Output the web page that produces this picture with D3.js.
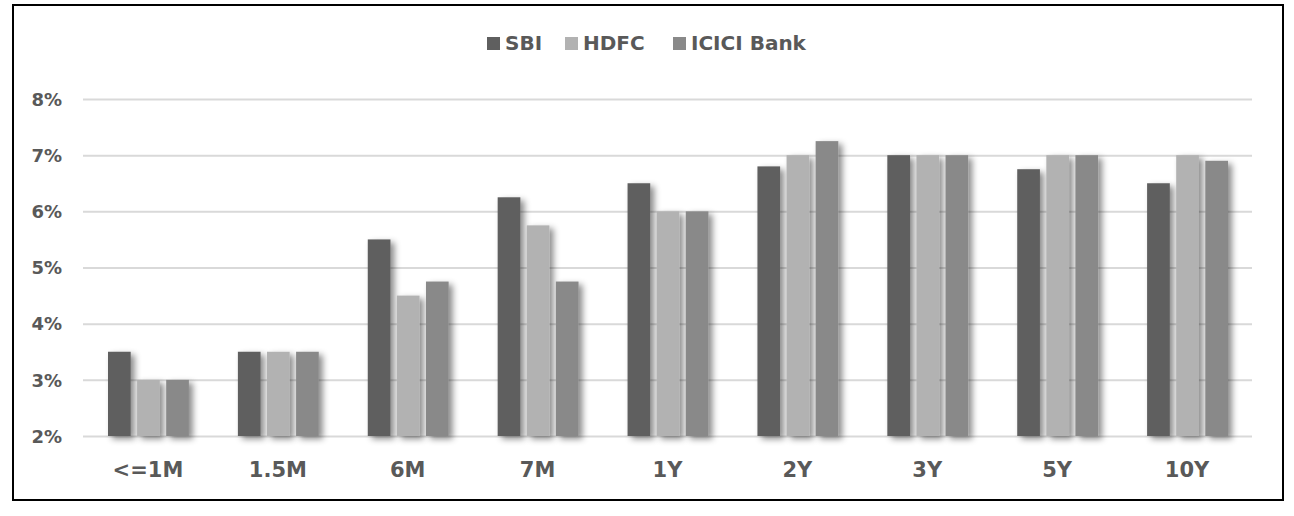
<!DOCTYPE html>
<html>
<head>
<meta charset="utf-8">
<script src="https://cdn.jsdelivr.net/npm/d3@7"></script>
<style>
  body { margin: 0; background: #fff; }
  svg text { font-family: "Century Gothic", "DejaVu Sans", sans-serif; font-weight: bold; fill: #595959; }
</style>
</head>
<body>
<div class="chart"></div>
<script>
const categories = ["<=1M", "1.5M", "6M", "7M", "1Y", "2Y", "3Y", "5Y", "10Y"];
const seriesNames = ["SBI", "HDFC", "ICICI Bank"];
const sbi = [3.5, 3.5, 5.5, 6.25, 6.5, 6.8, 7, 6.75, 6.5];
const hdfc = [3, 3.5, 4.5, 5.75, 6, 7, 7, 7, 7];
const icici = [3, 3.5, 4.75, 4.75, 6, 7.25, 7, 7, 6.9];
const yTicks = [2, 3, 4, 5, 6, 7, 8];
const colors = ["#5f5f5f", "#b2b2b2", "#898989"];

const seriesValues = [sbi, hdfc, icici];
const data = categories.map((c, i) => ({
  cat: c,
  vals: seriesNames.map((s, j) => ({ name: s, v: seriesValues[j][i] }))
}));

const totalWidth = 1294, totalHeight = 516;
const margin = { top: 99, left: 83, right: 42, bottom: 80 };
const width = totalWidth - margin.left - margin.right;
const height = 436 - margin.top;

const svg = d3.select(".chart").append("svg")
  .attr("width", totalWidth)
  .attr("height", totalHeight);

//shadow under bars
const defs = svg.append("defs");
const f = defs.append("filter").attr("id", "shadow")
  .attr("x", "-30%").attr("y", "-10%").attr("width", "180%").attr("height", "130%");
f.append("feDropShadow").attr("dx", 4).attr("dy", 3).attr("stdDeviation", 3)
  .attr("flood-color", "#000").attr("flood-opacity", 0.45);

//outer frame
svg.append("rect")
  .attr("x", 13).attr("y", 5)
  .attr("width", 1270).attr("height", 495)
  .attr("fill", "none").attr("stroke", "#000").attr("stroke-width", 2);

const xScale = d3.scaleBand().domain(categories).range([0, width]).paddingInner(0).paddingOuter(0);
const innerScale = d3.scaleBand().domain(seriesNames)
  .range([25, xScale.bandwidth() - 24]).paddingInner(0.22);
const yScale = d3.scaleLinear().domain([2, 8]).range([height, 0]);
const colorScale = d3.scaleOrdinal(seriesNames, colors);

const chartGroup = svg.append("g")
  .attr("transform", `translate(${margin.left}, ${margin.top})`);

//gridlines + y labels
const yAxis = d3.axisLeft(yScale)
  .tickValues(yTicks)
  .tickSize(-width)
  .tickPadding(21)
  .tickFormat(d => d + "%");
const yg = chartGroup.append("g").attr("class", "y-axis").call(yAxis);
yg.select(".domain").remove();
yg.selectAll(".tick line").attr("stroke", "#d9d9d9").attr("stroke-width", 2);
yg.selectAll(".tick text").attr("font-size", 18).attr("dy", "0.35em");

//x labels
const xAxis = d3.axisBottom(xScale).tickSize(0).tickPadding(26);
const xg = chartGroup.append("g").attr("class", "x-axis")
  .attr("transform", `translate(0, ${height})`).call(xAxis);
xg.select(".domain").remove();
xg.selectAll(".tick text").attr("font-size", 21);

//bars
const groups = chartGroup.selectAll(".grp").data(data).enter().append("g")
  .attr("class", "grp")
  .attr("transform", d => `translate(${xScale(d.cat)},0)`);

groups.selectAll("rect").data(d => d.vals).enter().append("rect")
  .attr("x", d => innerScale(d.name))
  .attr("width", innerScale.bandwidth())
  .attr("y", d => yScale(d.v))
  .attr("height", d => yScale(2) - yScale(d.v))
  .attr("fill", d => colorScale(d.name))
  .attr("filter", "url(#shadow)");

//legend
const legendX = [487, 565, 673];
const legendGroup = svg.append("g");
legendGroup.selectAll("rect").data(seriesNames).enter().append("rect")
  .attr("x", (d, i) => legendX[i])
  .attr("y", 37)
  .attr("width", 13).attr("height", 13)
  .attr("fill", colorScale);
legendGroup.selectAll("text").data(seriesNames).enter().append("text")
  .attr("x", (d, i) => legendX[i] + 18)
  .attr("y", 43)
  .attr("dy", "0.35em")
  .attr("font-size", 20)
  .text(d => d);
</script>
</body>
</html>
